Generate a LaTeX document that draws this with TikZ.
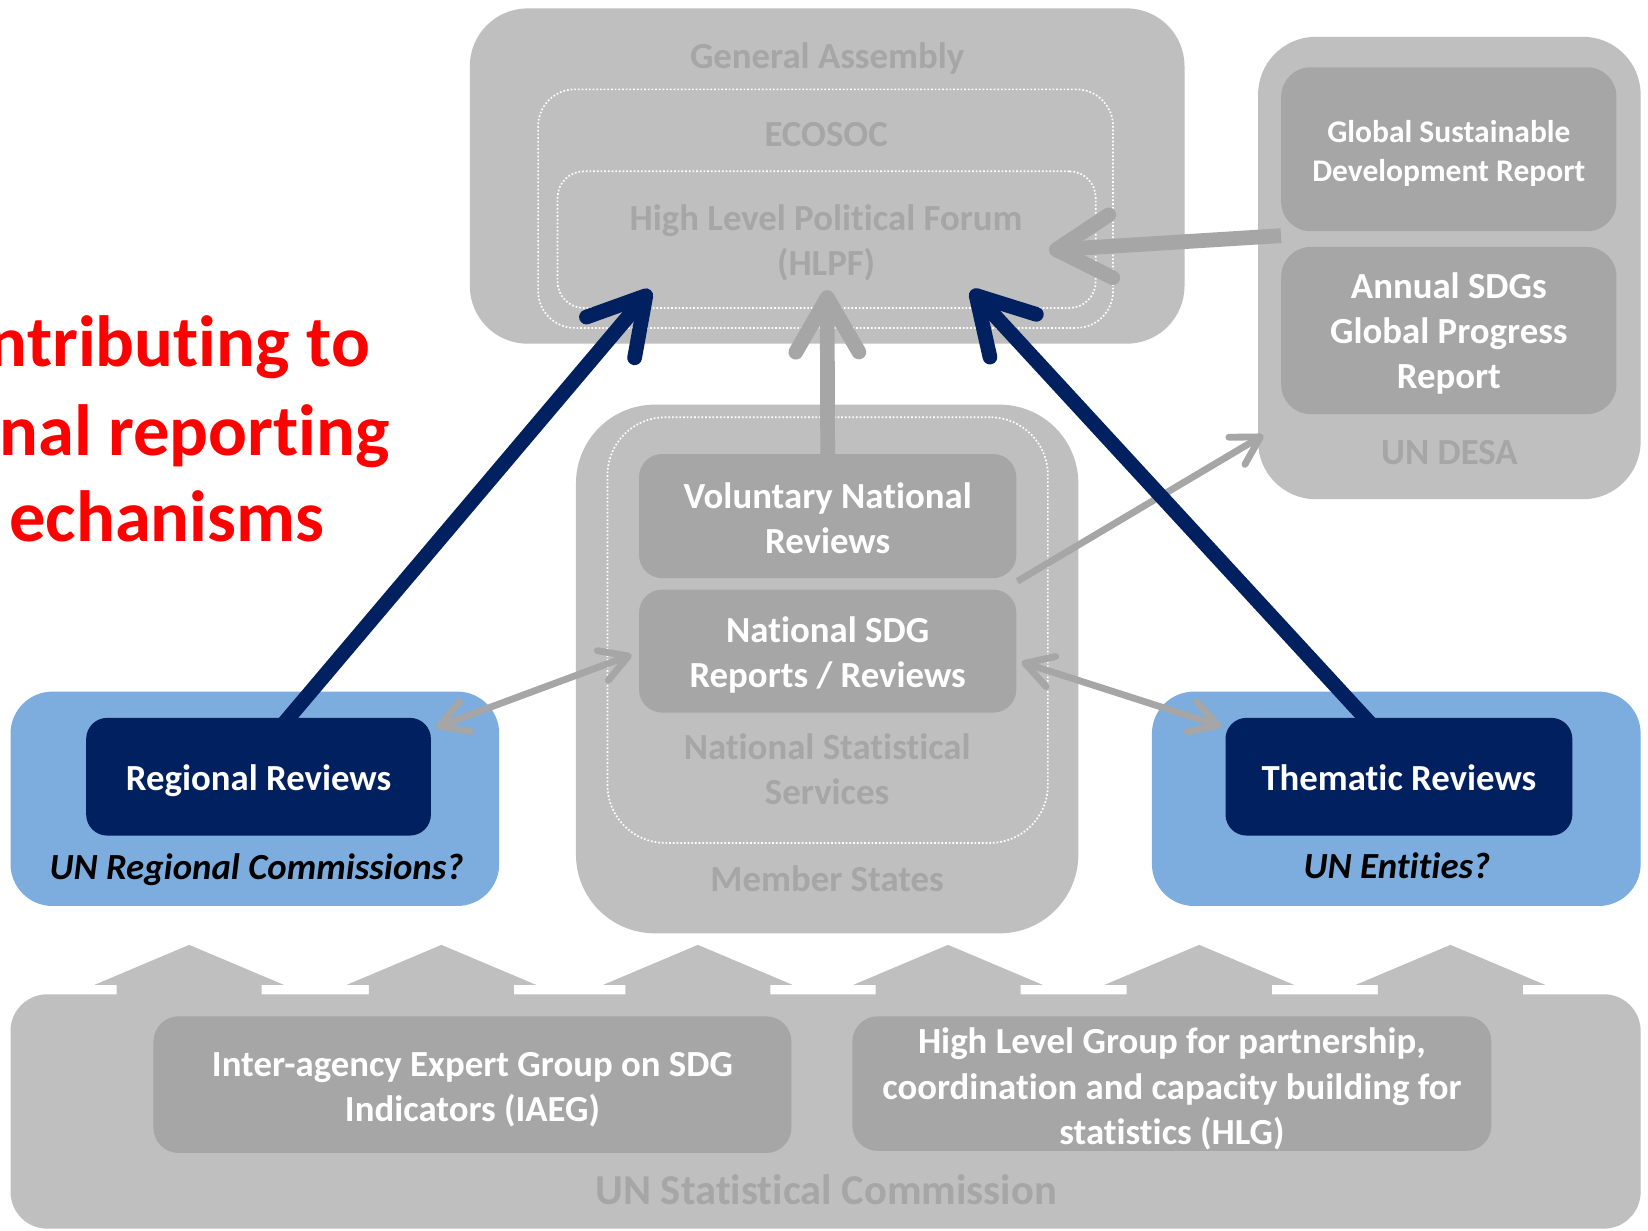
\documentclass[tikz,border=0pt]{standalone}
\usepackage{fontspec}
\setmainfont{Carlito}[Ligatures={NoCommon,NoContextual},Contextuals=NoAlternate]
\usetikzlibrary{arrows.meta,calc}
\newcommand{\tiX}{t\kern0pt i}
\definecolor{lg}{RGB}{191,191,191}
\definecolor{mg}{RGB}{166,166,166}
\definecolor{navy}{RGB}{0,32,96}
\definecolor{lblue}{RGB}{124,173,222}
\definecolor{redt}{RGB}{255,0,0}
\begin{document}
\begin{tikzpicture}[x=1pt,y=-1pt,
  graybox/.style={fill=lg,draw=none,inner sep=0pt},
  midbox/.style={fill=mg,draw=none,inner sep=0pt,rounded corners=24pt},
  wtext/.style={text=white,align=center,inner sep=0pt,font=\bfseries\fontsize{35}{43}\selectfont},
  dotbox/.style={draw=white,line width=1.6pt,dash pattern=on 1.6pt off 1.9pt,inner sep=0pt},
  bluebox/.style={fill=lblue,draw=none,inner sep=0pt,rounded corners=40pt},
  navybox/.style={fill=navy,draw=none,inner sep=0pt,rounded corners=20pt},
  glabel/.style={text=mg,align=center,inner sep=0pt,font=\bfseries\fontsize{35}{43}\selectfont},
  ilabel/.style={text=black,inner sep=0pt,font=\bfseries\itshape\fontsize{35}{42}\selectfont},
  redlabel/.style={text=redt,inner sep=0pt,font=\bfseries\fontsize{69}{84}\selectfont},
  bignavy/.style={draw=navy,line width=14pt,-{Straight Barb[length=52pt,width=60pt,round]}},
  biggray/.style={draw=mg,line width=14pt,-{Straight Barb[length=52pt,width=60pt,round]}},
  thingray/.style={draw=mg,line width=6.5pt,-{Straight Barb[length=26pt,width=30pt,round]}},
  dblgray/.style={draw=mg,line width=6.5pt,{Straight Barb[length=26pt,width=30pt,round]}-{Straight Barb[length=26pt,width=30pt,round]}}
]
\useasboundingbox (0,0) rectangle (1568,1171);
\fill[white] (0,0) rectangle (1568,1171);

% ---- UN Statistical Commission ----
\node[graybox,rounded corners=35pt,minimum width=1551pt,minimum height=223pt] (usc) at (785.5,1057.5) {};
\foreach \tx in {180,420,664,902,1141,1380} {
  \fill[lg] (\tx-69,950) -- (\tx-69,937) -- (\tx-90,937) -- (\tx,899) -- (\tx+90,937) -- (\tx+69,937) -- (\tx+69,950) -- cycle;
}
\node[midbox,minimum width=607pt,minimum height=130pt] (iaeg) at (449.5,1032) {};
\node[wtext] (iaegt) at ($(iaeg)+(0,5)$) {Inter-agency Expert Group on SDG\\Indicators (IAEG)};
\node[midbox,minimum width=608pt,minimum height=128pt] (hlg) at (1115,1031) {};
\node[wtext] (hlgt) at ($(hlg)+(0,5)$) {High Level Group for partnership,\\coordina\tiX on and capacity building for\\statis\tiX cs (HLG)};
\node[glabel,font=\bfseries\fontsize{40.5}{48}\selectfont] (usclab) at (786,1132) {UN Statis\tiX cal Commission};

% ---- General Assembly ----
\node[graybox,rounded corners=55pt,minimum width=680pt,minimum height=319pt] (ga) at (787,167.5) {};
\node[dotbox,rounded corners=35pt,minimum width=547pt,minimum height=227pt] (ecosoc) at (785.5,198.5) {};
\node[dotbox,rounded corners=25pt,minimum width=512pt,minimum height=130pt] (hlpf) at (786.5,228) {};
\node[glabel] (galab) at (787,56) {General Assembly};
\node[glabel] (ecolab) at (786,128) {ECOSOC};
\node[glabel] (hlpflab) at (786,231) {High Level Poli\tiX cal Forum\\(HLPF)};

% ---- UN DESA ----
\node[graybox,rounded corners=55pt,minimum width=364pt,minimum height=440pt] (desa) at (1379,255) {};
\node[midbox,rounded corners=28pt,minimum width=319pt,minimum height=156pt] (gsdr) at (1378.5,142) {};
\node[wtext,font=\bfseries\fontsize{30}{37}\selectfont] (gsdrt) at ($(gsdr)+(0,4)$) {Global Sustainable\\Development Report};
\node[midbox,rounded corners=28pt,minimum width=319pt,minimum height=159pt] (asdg) at (1378.5,314.5) {};
\node[wtext] (asdgt) at ($(asdg)+(0,3)$) {Annual SDGs\\Global Progress\\Report};
\node[glabel] (desalab) at (1379,431) {UN DESA};

% ---- Member States ----
\node[graybox,rounded corners=75pt,minimum width=478pt,minimum height=503pt] (ms) at (787,636.5) {};
\node[dotbox,rounded corners=55pt,minimum width=419pt,minimum height=405pt] (nss) at (787.5,599.5) {};
\node[midbox,rounded corners=22pt,minimum width=359pt,minimum height=118pt] (vnr) at (787.5,491) {};
\node[wtext] (vnrt) at ($(vnr)+(0,2)$) {Voluntary Na\tiX onal\\Reviews};
\node[midbox,rounded corners=22pt,minimum width=359pt,minimum height=117pt] (nsdg) at (787.5,619.5) {};
\node[wtext] (nsdgt) at ($(nsdg)+(0,4)$) {Na\tiX onal SDG\\Reports / Reviews};
\node[glabel] (nsslab) at (787,731.5) {Na\tiX onal Statis\tiX cal\\Services};
\node[glabel] (mslab) at (787,836) {Member States};

% ---- Regional / Thematic ----
\node[bluebox,minimum width=465pt,minimum height=204pt] (reg) at (242.5,760) {};
\node[navybox,minimum width=328pt,minimum height=112pt] (rr) at (246,739) {};
\node[wtext] (rrt) at ($(rr)+(0,4)$) {Regional Reviews};
\node[ilabel] (reglab) at (244,827) {UN Regional Commissions?};
\node[bluebox,minimum width=465pt,minimum height=204pt] (them) at (1328.5,760) {};
\node[navybox,minimum width=330pt,minimum height=112pt] (tr) at (1331,739) {};
\node[wtext] (trt) at ($(tr)+(0,1)$) {Thema\tiX c Reviews};
\node[ilabel] (themlab) at (1329,824) {UN En\tiX\tiX es?};

% ---- red text ----
\node[redlabel,anchor=base east] (red1) at (352,349) {ntributing to};
\node[redlabel,anchor=base east] (red2) at (371,433) {nal reporting};
\node[redlabel,anchor=base east] (red3) at (309,515) {echanisms};

% ---- connector coordinates ----
\coordinate (hlpfL) at (619,276);
\coordinate (hlpfR) at (924,276);
\coordinate (hlpfM) at (787,276);
\coordinate (hlpfE) at (998,238);
\coordinate (desaIn) at (1202,414);
\coordinate (vnrOut) at (968,553);
\coordinate (gsdrOut) at ($(gsdr.south west)+(0,4)$);
\coordinate (regIn) at (415,692);
\coordinate (nsdgL) at (601,623);
\coordinate (nsdgR) at (972,630);
\coordinate (themIn) at (1162,691);

% ---- gray arrows ----
\draw[biggray] (vnr.north) -- (hlpfM);
\draw[biggray] (gsdrOut) -- (hlpfE);
\draw[thingray] (vnrOut) -- (desaIn);
\draw[dblgray] (regIn) -- (nsdgL);
\draw[dblgray] (nsdgR) -- (themIn);

% ---- navy arrows ----
\draw[bignavy] ($(rr.north)+(22,8)$) -- (hlpfL);
\draw[bignavy] ($(tr.north)+(-25,8)$) -- (hlpfR);
\end{tikzpicture}
\end{document}
